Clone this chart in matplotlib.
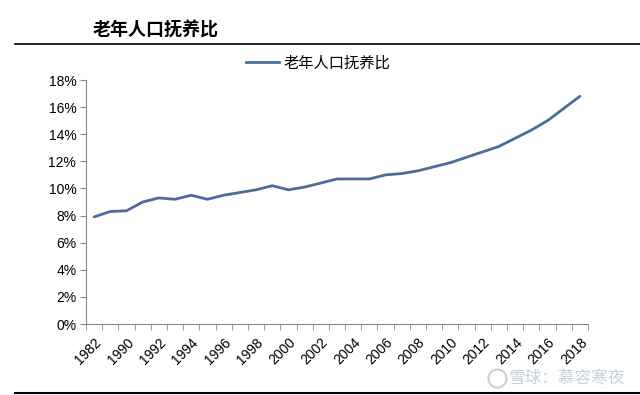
import matplotlib.pyplot as plt
import numpy as np
from matplotlib.lines import Line2D
from matplotlib.transforms import ScaledTranslation

plt.rcParams['font.family'] = ['Liberation Sans', 'Noto Sans CJK SC', 'DejaVu Sans']

# data: old-age dependency ratio (%)
years = ['1982', '1987', '1990', '1991', '1992', '1993', '1994', '1995', '1996', '1997',
         '1998', '1999', '2000', '2001', '2002', '2003', '2004', '2005', '2006', '2007',
         '2008', '2009', '2010', '2011', '2012', '2013', '2014', '2015', '2016', '2017', '2018']
ratio = [7.9, 8.3, 8.35, 9.0, 9.3, 9.2, 9.5, 9.2, 9.5, 9.7,
         9.9, 10.2, 9.9, 10.1, 10.4, 10.7, 10.7, 10.7, 11.0, 11.1,
         11.3, 11.6, 11.9, 12.3, 12.7, 13.1, 13.7, 14.3, 15.0, 15.9, 16.8]
title = '老年人口抚养比'

fig = plt.figure(figsize=(6.4, 3.95), dpi=100)
ax = fig.add_axes([86/640, 1 - 324/395, (588-86)/640, (324-80)/395])

x = np.arange(len(years))
ax.plot(x, ratio, color='#4A6E99', lw=2.0, solid_capstyle='round')

ax.set_xlim(-0.5, len(years) - 0.5)
ax.set_ylim(0, 18)
ax.set_yticks(np.arange(0, 19, 2))
ax.set_yticklabels(['%d%%' % v for v in range(0, 19, 2)], fontsize=10)

ax.set_xticks(x[::2])
ax.set_xticklabels(years[::2], rotation=45, ha='right', rotation_mode='anchor', fontsize=10)
shift = ScaledTranslation(-7/72, 0, fig.dpi_scale_trans)
for lab in ax.get_xticklabels():
    lab.set_transform(lab.get_transform() + shift)
ax.set_xticks(np.arange(-0.5, len(years), 1), minor=True)
ax.tick_params(axis='x', which='major', length=0, pad=8)
ax.tick_params(axis='x', which='minor', length=4, color='#888888', direction='out')
ax.tick_params(axis='y', length=4, color='#888888', direction='out', pad=3)

for s in ['top', 'right']:
    ax.spines[s].set_visible(False)
for s in ['left', 'bottom']:
    ax.spines[s].set_color('#888888')
    ax.spines[s].set_linewidth(0.8)

# legend
handle = Line2D([], [], color='#4A6E99', lw=2.0)
fig.legend([handle], [title], loc='center', bbox_to_anchor=(318/640, 1 - 63/395),
           frameon=False, handlelength=2.15, handletextpad=0.3,
           prop={'family': 'Noto Sans CJK SC', 'size': 11})

# header title and rules
fig.text(93/640, 1 - 30/395, title, fontsize=13, fontweight='bold',
         family='Noto Sans CJK SC', va='center', ha='left')
fig.add_artist(Line2D([15/640, 1], [1 - 44/395, 1 - 44/395], color='black', lw=1.2))
fig.add_artist(Line2D([15/640, 1], [1 - 393/395, 1 - 393/395], color='black', lw=1.5))

# watermark
fig.add_artist(Line2D([497/640], [1 - 378/395], marker='o', ms=13, mfc='none',
                      mec='#c8d0da', mew=1.5, ls='none'))
fig.text(509/640, 1 - 378/395, '雪球：慕容寒夜', fontsize=12, color='#c8d0da',
         family='Noto Sans CJK SC', va='center', ha='left')

fig.savefig('out.png', dpi=100)
